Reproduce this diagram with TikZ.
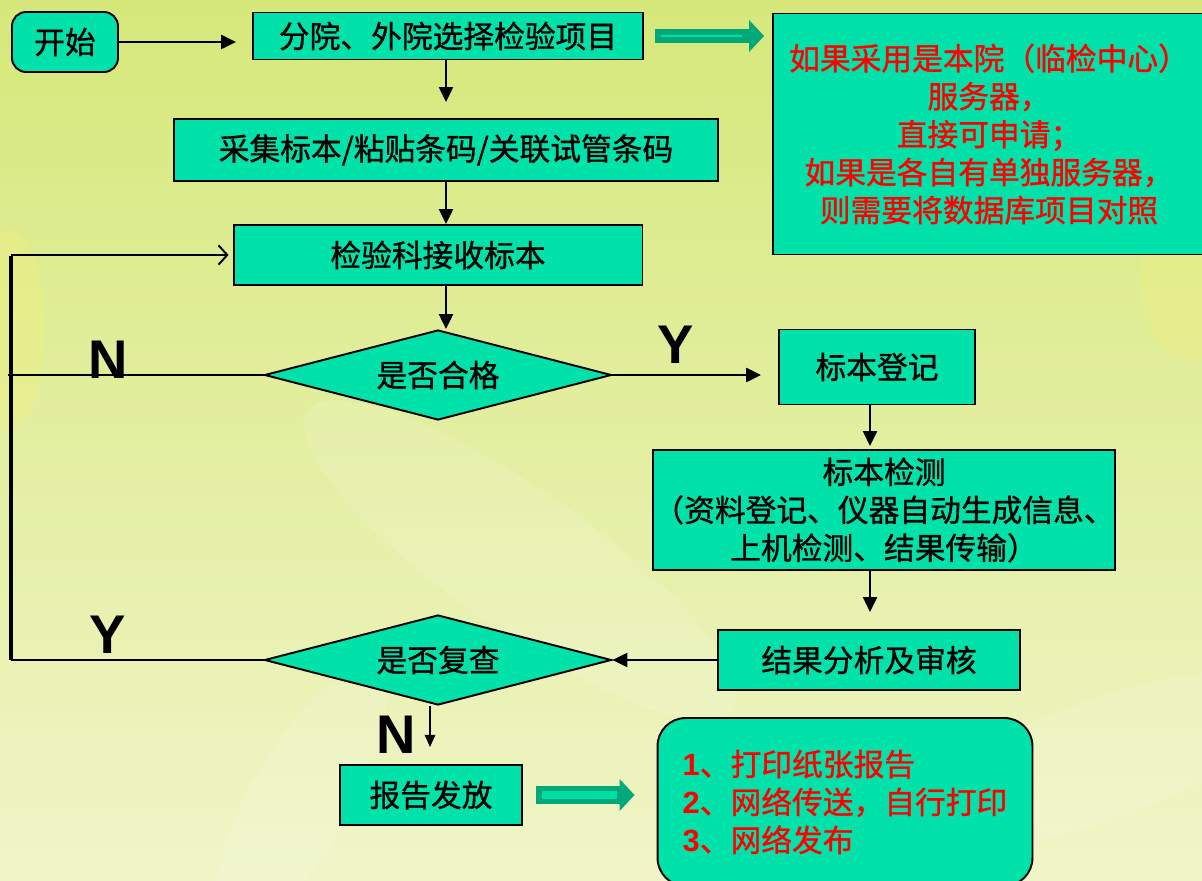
\documentclass[tikz,border=0pt]{standalone}
\usepackage{fontspec}
\setmainfont{Noto Sans CJK SC}
\newfontfamily\heifont{Noto Sans CJK SC}[FakeBold=1]
\newfontfamily\arialfont{Liberation Sans}
\usetikzlibrary{arrows.meta,positioning,calc,shapes.geometric}
\definecolor{boxgreen}{RGB}{0,226,170}
\definecolor{arrowteal}{RGB}{0,168,122}
\definecolor{arrowlight}{RGB}{0,222,162}
\definecolor{bgtop}{RGB}{214,232,122}
\definecolor{bgbottom}{RGB}{240,245,200}
\definecolor{glow}{RGB}{244,240,125}
\tikzset{
    >={Triangle[length=8.5pt,width=8pt]},
    every picture/.style={line width=1.1pt},
    stepbox/.style={rectangle,draw,fill=boxgreen,inner sep=0pt,align=center,
        font=\heifont\fontsize{17.5}{21.6}\selectfont},
    decision/.style={diamond,draw,fill=boxgreen,inner sep=0pt,aspect=3.85,
        minimum width=6.94cm,minimum height=1.8cm,font=\heifont\fontsize{17.5}{21.6}\selectfont},
    notebox/.style={stepbox,text=red},
    yn/.style={font=\arialfont\bfseries\fontsize{31}{31}\selectfont},
    fatarrow/.style={draw=arrowteal,line width=#1,-{Triangle[length=0.3cm,width=0.62cm]}},
    fatinner/.style={draw=arrowlight,line width=#1}
}

\begin{document}
\begin{tikzpicture}[x=0.02cm,y=-0.02cm]
    % Background
    \useasboundingbox (0,0) rectangle (1202,881);
    \fill[top color=bgtop,bottom color=bgbottom] (0,0) rectangle (1202,881);
    \fill[glow,opacity=0.35] (10,330) ellipse [x radius=35,y radius=100];
    \fill[glow,opacity=0.3] (1190,280) ellipse [x radius=50,y radius=80];
    \fill[white,opacity=0.12,rotate around={-35:(520,560)}] (520,560) ellipse [x radius=260,y radius=70];
    \fill[white,opacity=0.12,rotate around={20:(1100,760)}] (1100,760) ellipse [x radius=200,y radius=60];
    \fill[white,opacity=0.12,rotate around={60:(300,800)}] (300,800) ellipse [x radius=150,y radius=50];

    % Nodes
    \node[stepbox,rounded corners=8pt,minimum width=2.12cm,minimum height=1.2cm] (start) at (65,42) {开始};
    \node[stepbox,minimum width=7.8cm,minimum height=0.94cm] (sel) at (448,36) {分院、外院选择检验项目};
    \node[stepbox,minimum width=10.88cm,minimum height=1.24cm] (collect) at (446,150) {采集标本/粘贴条码/关联试管条码};
    \node[stepbox,minimum width=8.18cm,minimum height=1.2cm] (receive) at (438,255) {检验科接收标本};
    \node[decision] (qualify) at (438,375) {是否合格};
    \node[stepbox,minimum width=3.92cm,minimum height=1.5cm] (register) at (877,367) {标本登记};
    \node[stepbox,minimum width=9.08cm,minimum height=2.4cm] (test) at (884,510)
        {标本检测\\（资料登记、仪器自动生成信息、\\上机检测、结果传输）};
    \node[stepbox,minimum width=6.04cm,minimum height=1.2cm] (analyse) at (869,660) {结果分析及审核};
    \node[decision] (review) at (438,660) {是否复查};
    \node[stepbox,minimum width=3.64cm,minimum height=1.2cm] (issue) at (431,795) {报告发放};

    % Notes
    \node[notebox,minimum width=8.64cm,minimum height=4.82cm] (note1) at (989,134)
        {如果采用是本院（临检中心）\\服务器，\\直接可申请；\\如果是各自有单独服务器，\\则需要将数据库项目对照};
    \node[notebox,rounded corners=16pt,align=left,minimum width=7.5cm,minimum height=3.36cm] (note2) at (845,802)
        {{\arialfont\bfseries 1}、打印纸张报告\\{\arialfont\bfseries 2}、网络传送，自行打印\\{\arialfont\bfseries 3}、网络发布};

    % Labels
    \node[yn] (n1) at (108,360) {N};
    \node[yn] (y1) at (676,345) {Y};
    \node[yn] (y2) at (108,635) {Y};
    \node[yn] (n2) at (396,735) {N};

    % Arrows
    \coordinate (spine) at (446,0);
    \coordinate (col) at (870,0);
    \coordinate (ncol) at (430,0);
    \coordinate (looptop) at (11,255);
    \coordinate (loopbot) at (11,660);
    \draw[->,shorten >=0.32cm] (start.east) -- (start.east -| sel.west);
    \draw[->,shorten >=0.32cm] (sel.south -| spine) -- (collect.north -| spine);
    \draw[->] (collect.south -| spine) -- (receive.north -| spine);
    \draw[->] (receive.south -| spine) -- (spine |- qualify.north);
    \draw[->,shorten >=0.34cm] (qualify.east) -- (register.west |- qualify.east);
    \draw[->,shorten >=0.06cm] (register.south -| col) -- (test.north -| col);
    \draw[->,shorten >=0.34cm] (test.south -| col) -- (analyse.north -| col);
    \draw[->] (analyse.west) -- (review.east);
    \draw[-{Triangle[length=7pt,width=6pt]},shorten >=0.34cm] (review.south -| ncol) -- (issue.north -| ncol);

    % Loop back
    \draw ([xshift=-0.06cm]qualify.west -| looptop) -- (qualify.west);
    \draw (loopbot) -- (review.west);
    \draw[line width=2.2pt] ([yshift=-0.5pt]looptop) -- (loopbot);
    \draw[-{Straight Barb[length=5pt,width=11pt]},shorten >=0.08cm] (looptop) -- (receive.west);

    % Fat arrows
    \draw[fatarrow=0.28cm] ([xshift=0.22cm]sel.east) -- ([xshift=-0.16cm]sel.east -| note1.west);
    \draw[fatinner=0.05cm] ([xshift=0.34cm]sel.east) -- ([xshift=-0.6cm]sel.east -| note1.west);
    \draw[fatarrow=0.36cm] ([xshift=0.26cm]issue.east) -- ([xshift=-0.44cm]issue.east -| note2.west);
    \draw[fatinner=0.16cm] ([xshift=0.38cm]issue.east) -- ([xshift=-0.8cm]issue.east -| note2.west);
\end{tikzpicture}
\end{document}
